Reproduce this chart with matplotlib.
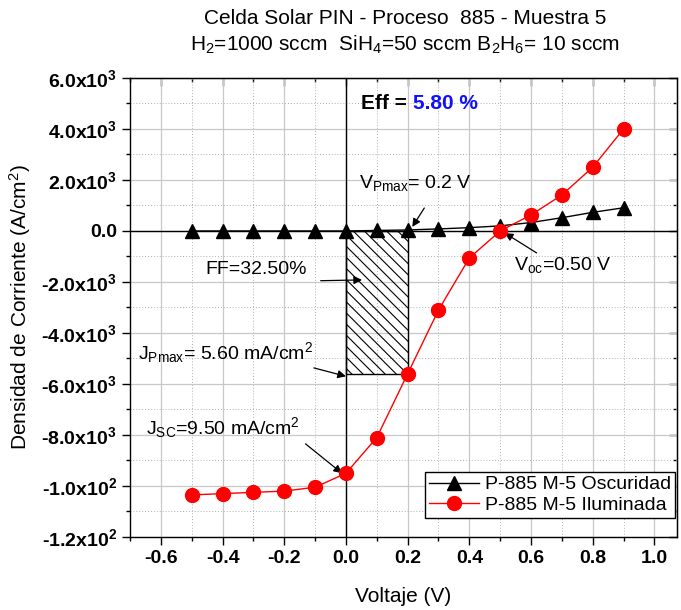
import matplotlib
matplotlib.use("Agg")
import matplotlib.pyplot as plt
from matplotlib.ticker import MultipleLocator
from matplotlib.patches import Rectangle

plt.rcParams['font.family'] = ['Liberation Sans', 'DejaVu Sans']
plt.rcParams['mathtext.fontset'] = 'custom'
plt.rcParams['mathtext.rm'] = 'Liberation Sans'
plt.rcParams['mathtext.it'] = 'Liberation Sans'
plt.rcParams['mathtext.bf'] = 'Liberation Sans:bold'
plt.rcParams['hatch.linewidth'] = 0.8

# Voltage sweep (V)
voltage = [-0.5, -0.4, -0.3, -0.2, -0.1, 0.0, 0.1, 0.2, 0.3, 0.4, 0.5, 0.6, 0.7, 0.8, 0.9]
# Current density in the dark (A/cm^2)
j_dark = [0.0, 0.0, 0.0, 0.0, 0.0, 0.0, 0.00002, 0.00004, 0.00008, 0.00013,
          0.0002, 0.00033, 0.00052, 0.00073, 0.00091]
# Current density under illumination (A/cm^2)
j_light = [-0.01035, -0.0103, -0.01025, -0.0102, -0.01005, -0.0095, -0.0081,
           -0.0056, -0.0031, -0.00106, 0.0, 0.00063, 0.00141, 0.0025, 0.004]

# Cell parameters
v_pmax = 0.2
j_pmax = -0.0056
j_sc = -0.0095
v_oc = 0.50

y_ticks = [0.006, 0.004, 0.002, 0.0, -0.002, -0.004, -0.006, -0.008, -0.010, -0.012]
y_labels = [r"6.0x10$^\mathbf{3}$", r"4.0x10$^\mathbf{3}$", r"2.0x10$^\mathbf{3}$", "0.0",
            r"-2.0x10$^\mathbf{3}$", r"-4.0x10$^\mathbf{3}$", r"-6.0x10$^\mathbf{3}$",
            r"-8.0x10$^\mathbf{3}$", r"-1.0x10$^\mathbf{2}$", r"-1.2x10$^\mathbf{2}$"]
x_ticks = [-0.6, -0.4, -0.2, 0.0, 0.2, 0.4, 0.6, 0.8, 1.0]
x_labels = ["-0.6", "-0.4", "-0.2", "0.0", "0.2", "0.4", "0.6", "0.8", "1.0"]

fig = plt.figure(figsize=(6.81, 6.10), dpi=100)
ax = fig.add_axes([0.191, 0.1197, 0.803, 0.7525])

ax.set_xlim(-0.7, 1.073)
ax.set_ylim(-0.012, 0.006)

ax.set_xticks(x_ticks)
ax.set_xticklabels(x_labels)
ax.set_yticks(y_ticks)
ax.set_yticklabels(y_labels)
ax.xaxis.set_minor_locator(MultipleLocator(0.1))
ax.yaxis.set_minor_locator(MultipleLocator(0.001))

ax.grid(which='major', color='#c8c8c8', linewidth=0.9, linestyle='-', zorder=0)
ax.grid(which='minor', color='#b0b0b0', linewidth=0.7, linestyle=(0, (1, 2)), zorder=0)
ax.set_axisbelow(True)

ax.tick_params(which='both', direction='out', width=1.0, labelsize=14)
ax.tick_params(which='major', length=6)
ax.tick_params(which='minor', length=3)
for lab in ax.get_xticklabels() + ax.get_yticklabels():
    lab.set_fontweight('bold')

# Ticks on the top and right frame pointing inward
axt = ax.secondary_xaxis('top')
axt.set_xticks(x_ticks)
axt.xaxis.set_minor_locator(MultipleLocator(0.1))
axt.tick_params(which='both', direction='in', labeltop=False, width=1.0)
axt.tick_params(which='major', length=6)
axt.tick_params(which='minor', length=3)
axr = ax.secondary_yaxis('right')
axr.set_yticks(y_ticks)
axr.yaxis.set_minor_locator(MultipleLocator(0.001))
axr.tick_params(which='both', direction='in', labelright=False, width=1.0)
axr.tick_params(which='major', length=6)
axr.tick_params(which='minor', length=3)

for s in ax.spines.values():
    s.set_linewidth(1.0)

# Zero reference lines
ax.axhline(0, color='black', linewidth=1.0, zorder=1)
ax.axvline(0, color='black', linewidth=1.0, zorder=1)

# Maximum power rectangle
ax.add_patch(Rectangle((0, j_pmax), v_pmax, -j_pmax, facecolor='none',
                       edgecolor='black', hatch='\\\\\\', linewidth=1.0, zorder=2))

ax.plot(voltage, j_dark, color='black', linewidth=1.0, marker='^', markersize=10,
        markerfacecolor='black', markeredgecolor='black', label='P-885 M-5 Oscuridad', zorder=3)
ax.plot(voltage, j_light, color='red', linewidth=1.0, marker='o', markersize=10,
        markerfacecolor='red', markeredgecolor='red', label='P-885 M-5 Iluminada', zorder=4)

ax.set_xlabel('Voltaje (V)', fontsize=15, labelpad=14)
ax.set_ylabel(r'Densidad de Corriente (A/cm$^2$)', fontsize=15, labelpad=6)

fig.text(0.595, 0.970, 'Celda Solar PIN - Proceso  885 - Muestra 5', ha='center', va='center', fontsize=15)
fig.text(0.595, 0.927, r'H$_2$=1000 sccm  SiH$_4$=50 sccm B$_2$H$_6$= 10 sccm', ha='center', va='center', fontsize=15)

# Efficiency
t_eff = ax.text(0.049, 0.00498, 'Eff = ', fontsize=15, fontweight='bold', va='center', ha='left')
ax.annotate('5.80 %', xy=(1, 0), xycoords=t_eff, va='bottom', ha='left',
            fontsize=15, fontweight='bold', color='#1010ff')

arrow = dict(arrowstyle='-|>', color='black', linewidth=0.9, mutation_scale=12, shrinkA=0, shrinkB=0)

ax.text(0.042, 0.0019, r'V$_{\mathregular{Pmax}}$= 0.2 V', fontsize=14, va='center', ha='left')
ax.annotate('', xy=(0.215, 0.00016), xytext=(0.254, 0.0009), arrowprops=arrow)

ax.text(0.546, -0.00133, r'V$_{\mathregular{oc}}$=0.50 V', fontsize=14, va='center', ha='left')
ax.annotate('', xy=(0.515, -0.00008), xytext=(0.618, -0.00086), arrowprops=arrow)

ax.text(-0.455, -0.00153, 'FF=32.50%', fontsize=14, va='center', ha='left')
ax.annotate('', xy=(0.052, -0.00192), xytext=(-0.082, -0.00195), arrowprops=arrow)

ax.text(-0.673, -0.00475, r'J$_{\mathregular{Pmax}}$= 5.60 mA/cm$^2$', fontsize=14, va='center', ha='left')
ax.annotate('', xy=(0.0, -0.0057), xytext=(-0.104, -0.00537), arrowprops=arrow)

ax.text(-0.647, -0.00769, r'J$_{\mathregular{SC}}$=9.50 mA/cm$^2$', fontsize=14, va='center', ha='left')
ax.annotate('', xy=(-0.013, -0.0095), xytext=(-0.131, -0.00835), arrowprops=arrow)

leg = ax.legend(loc='upper left', bbox_to_anchor=(0.539, 0.1416), fontsize=14,
                frameon=True, fancybox=False, edgecolor='black', framealpha=1,
                handlelength=2.6, borderpad=0.2, labelspacing=0.15, handletextpad=0.3,
                borderaxespad=0)
leg.get_frame().set_linewidth(1.0)
leg.set_zorder(6)

fig.savefig('out.png', dpi=100)
